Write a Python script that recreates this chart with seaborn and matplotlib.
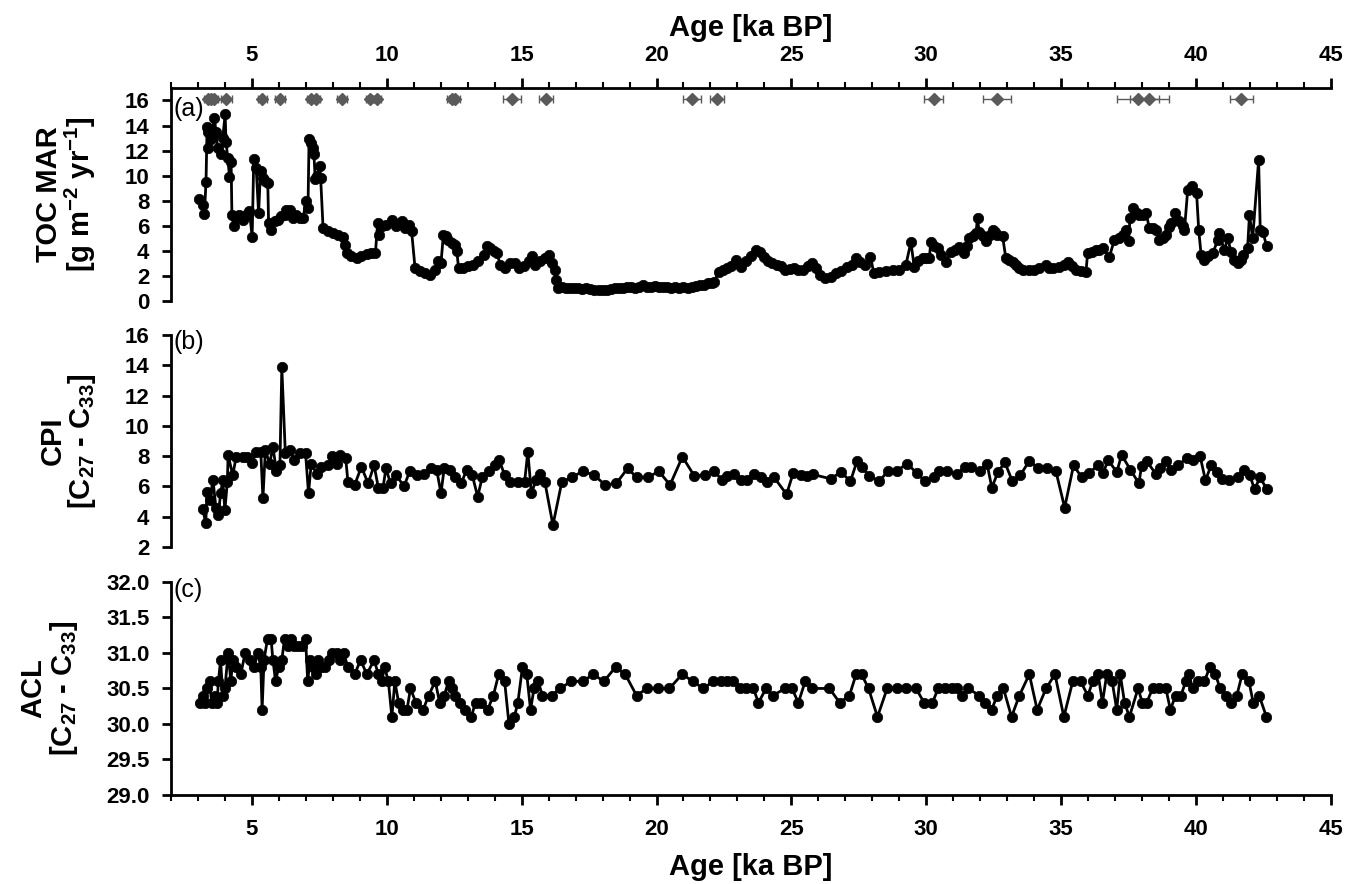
import matplotlib
matplotlib.use("Agg")
import matplotlib.pyplot as plt
import pandas as pd
import seaborn as sns
from matplotlib.ticker import MultipleLocator, FormatStrFormatter

# TOC MAR (g m-2 yr-1)
toc_age = [3.05, 3.18, 3.24, 3.30, 3.34, 3.36, 3.39, 3.49, 3.61, 3.67, 3.73, 3.86, 3.92, 4.01, 4.04,
           4.11, 4.17, 4.23, 4.26, 4.33, 4.42, 4.54, 4.66, 4.79, 4.91, 5.01, 5.07, 5.16, 5.25, 5.32,
           5.41, 5.49, 5.59, 5.62, 5.72, 5.84, 5.97, 6.09, 6.21, 6.28, 6.40, 6.52, 6.65, 6.77, 6.89,
           7.02, 7.08, 7.12, 7.20, 7.27, 7.30, 7.35, 7.43, 7.51, 7.55, 7.64, 7.82, 8.01, 8.20, 8.38,
           8.44, 8.51, 8.69, 8.88, 9.06, 9.25, 9.43, 9.58, 9.66, 9.71, 9.81, 9.99, 10.18, 10.36, 10.55,
           10.67, 10.82, 10.92, 11.05, 11.23, 11.42, 11.60, 11.79, 11.91, 12.01, 12.10, 12.19, 12.28,
           12.41, 12.53, 12.60, 12.66, 12.84, 13.03, 13.21, 13.40, 13.59, 13.71, 13.83, 13.96, 14.08,
           14.21, 14.39, 14.58, 14.76, 14.89, 15.07, 15.26, 15.38, 15.51, 15.69, 15.88, 16.03, 16.13,
           16.23, 16.28, 16.35, 16.50, 16.65, 16.80, 16.95, 17.10, 17.25, 17.40, 17.55, 17.70, 17.85,
           18.00, 18.15, 18.30, 18.45, 18.60, 18.75, 18.90, 19.05, 19.20, 19.35, 19.50, 19.65, 19.80,
           19.95, 20.10, 20.25, 20.40, 20.55, 20.70, 20.85, 21.00, 21.15, 21.30, 21.45, 21.60, 21.75,
           21.90, 22.05, 22.14, 22.30, 22.45, 22.60, 22.75, 22.96, 23.13, 23.30, 23.50, 23.70, 23.85,
           24.00, 24.15, 24.28, 24.45, 24.60, 24.77, 24.95, 25.10, 25.25, 25.43, 25.60, 25.76, 25.90,
           26.05, 26.25, 26.45, 26.65, 26.85, 27.07, 27.25, 27.40, 27.55, 27.73, 27.93, 28.06, 28.26,
           28.50, 28.75, 28.99, 29.24, 29.43, 29.55, 29.70, 29.86, 30.00, 30.11, 30.17, 30.30, 30.42,
           30.55, 30.73, 30.91, 31.05, 31.22, 31.40, 31.50, 31.59, 31.72, 31.84, 31.90, 31.96, 32.10,
           32.21, 32.35, 32.46, 32.55, 32.64, 32.83, 32.95, 33.08, 33.20, 33.32, 33.44, 33.60, 33.81,
           34.00, 34.19, 34.43, 34.55, 34.68, 34.93, 35.10, 35.24, 35.40, 35.55, 35.75, 35.92, 35.98,
           36.15, 36.29, 36.40, 36.54, 36.79, 36.97, 37.16, 37.30, 37.40, 37.50, 37.55, 37.68, 37.80,
           37.90, 38.05, 38.15, 38.27, 38.40, 38.52, 38.64, 38.77, 38.89, 39.00, 39.07, 39.23, 39.38,
           39.50, 39.57, 39.69, 39.85, 40.02, 40.10, 40.19, 40.31, 40.45, 40.62, 40.80, 40.86, 41.05,
           41.17, 41.30, 41.42, 41.54, 41.65, 41.73, 41.91, 41.98, 42.10, 42.32, 42.38, 42.48, 42.62]
toc_mar = [8.1, 7.7, 6.95, 9.5, 13.9, 12.2, 13.5, 12.9, 14.6, 13.5, 12.2, 11.7, 13.0, 14.9, 12.7,
           11.4, 9.9, 11.1, 6.9, 6.0, 6.6, 6.9, 6.5, 6.9, 7.2, 5.1, 11.3, 10.6, 7.0, 10.4,
           9.8, 9.6, 9.4, 6.2, 5.7, 6.4, 6.5, 6.8, 6.9, 7.3, 7.3, 6.6, 6.9, 6.6, 6.6,
           8.0, 7.4, 12.9, 12.6, 12.2, 11.7, 9.7, 10.0, 10.75, 9.8, 5.8, 5.6, 5.4, 5.3, 5.1,
           4.5, 3.8, 3.6, 3.4, 3.6, 3.75, 3.8, 3.8, 6.2, 5.3, 6.0, 6.1, 6.5, 6.0, 6.4,
           5.8, 6.1, 5.6, 2.6, 2.4, 2.2, 2.1, 2.5, 3.2, 3.0, 5.3, 5.2, 4.9,
           4.6, 4.5, 4.0, 2.6, 2.6, 2.8, 2.9, 3.2, 3.7, 4.4, 4.2, 4.0, 3.8,
           2.9, 2.6, 3.0, 3.0, 2.6, 2.8, 3.2, 3.6, 2.9, 3.2, 3.4, 3.7, 3.0,
           2.5, 1.7, 1.05, 1.1, 1.05, 1.0, 1.05, 1.0, 0.95, 1.0, 0.95, 0.9, 0.9,
           0.85, 0.9, 0.95, 1.0, 1.05, 1.0, 1.1, 1.1, 1.05, 1.15, 1.3, 1.15, 1.1,
           1.2, 1.15, 1.1, 1.15, 1.05, 1.1, 1.0, 1.1, 1.05, 1.15, 1.2, 1.25, 1.3,
           1.4, 1.45, 1.55, 2.3, 2.45, 2.6, 2.8, 3.25, 2.75, 3.2, 3.6, 4.05, 3.9,
           3.5, 3.2, 3.0, 2.9, 2.8, 2.5, 2.55, 2.6, 2.45, 2.5, 2.8, 3.0, 2.6,
           2.1, 1.8, 1.95, 2.2, 2.4, 2.75, 2.9, 3.4, 3.1, 2.85, 3.5, 2.2, 2.35,
           2.4, 2.45, 2.5, 2.85, 4.7, 2.75, 3.2, 3.4, 3.4, 3.4, 4.7, 4.4, 4.2,
           3.7, 3.15, 3.9, 4.1, 4.3, 3.8, 4.4, 5.0, 5.2, 5.4, 6.6, 5.5, 5.2,
           4.75, 5.3, 5.65, 5.5, 5.3, 5.15, 3.4, 3.3, 3.1, 2.9, 2.6, 2.5, 2.45,
           2.5, 2.6, 2.85, 2.6, 2.6, 2.75, 2.9, 3.15, 2.8, 2.45, 2.4, 2.35, 3.8,
           3.9, 4.05, 4.1, 4.2, 3.55, 4.85, 5.0, 5.3, 5.65, 4.75, 6.6, 7.4, 7.0,
           6.85, 6.9, 7.0, 5.8, 5.8, 5.65, 4.85, 5.0, 5.25, 5.9, 6.2, 7.0, 6.35,
           6.0, 5.65, 8.85, 9.2, 8.6, 5.65, 3.65, 3.25, 3.6, 3.8, 4.85, 5.4, 4.05,
           5.0, 3.95, 3.25, 3.0, 3.3, 3.65, 4.2, 6.85, 5.0, 11.25, 5.65, 5.5, 4.35]

# dating points (ka BP) with 1-sigma error
date_age = [3.38, 3.50, 3.58, 4.05, 5.38, 6.04, 7.18, 7.38, 8.34, 9.38, 9.65, 12.42, 12.52,
            14.65, 15.90, 21.32, 22.24, 30.28, 32.62, 37.85, 38.27, 41.68]
date_err = [0.15, 0.12, 0.15, 0.2, 0.17, 0.17, 0.15, 0.15, 0.17, 0.15, 0.15, 0.2, 0.2,
            0.33, 0.27, 0.33, 0.26, 0.35, 0.53, 0.79, 0.72, 0.43]

# CPI (C27 - C33)
cpi_age = [3.18, 3.29, 3.34, 3.43, 3.56, 3.67, 3.76, 3.84, 3.92, 4.00, 4.09, 4.12, 4.29, 4.42, 4.67,
           4.83, 5.00, 5.17, 5.33, 5.41, 5.50, 5.66, 5.78, 5.91, 6.04, 6.11, 6.24, 6.41, 6.57, 6.77,
           6.99, 7.10, 7.20, 7.40, 7.57, 7.82, 7.98, 8.15, 8.27, 8.48, 8.56, 8.81, 9.06, 9.31, 9.53,
           9.69, 9.86, 9.97, 10.14, 10.35, 10.64, 10.85, 11.13, 11.38, 11.63, 11.85, 12.01, 12.13,
           12.34, 12.54, 12.76, 12.96, 13.17, 13.37, 13.54, 13.78, 14.00, 14.17, 14.37, 14.56, 14.86,
           15.11, 15.23, 15.36, 15.53, 15.69, 15.86, 16.16, 16.49, 16.85, 17.27, 17.68, 18.10, 18.51,
           18.93, 19.26, 19.67, 20.09, 20.50, 20.96, 21.40, 21.78, 22.14, 22.43, 22.63, 22.88, 23.12,
           23.37, 23.62, 23.87, 24.11, 24.36, 24.82, 25.07, 25.35, 25.59, 25.79, 26.46, 26.83, 27.19,
           27.43, 27.60, 27.89, 28.26, 28.59, 28.91, 29.29, 29.64, 29.95, 30.28, 30.49, 30.77, 31.15,
           31.43, 31.64, 32.00, 32.25, 32.43, 32.66, 32.91, 33.19, 33.49, 33.82, 34.14, 34.47, 34.80,
           35.13, 35.46, 35.76, 36.04, 36.37, 36.56, 36.74, 37.06, 37.24, 37.57, 37.88, 37.98, 38.18,
           38.50, 38.67, 38.88, 39.08, 39.33, 39.65, 39.90, 40.15, 40.35, 40.56, 40.76, 40.97, 41.22,
           41.55, 41.76, 41.99, 42.17, 42.37, 42.63]
cpi_val = [4.5, 3.56, 5.65, 5.1, 6.4, 4.55, 4.1, 5.55, 6.4, 4.44, 6.3, 8.07, 6.75, 7.96, 7.96,
           7.96, 7.52, 8.3, 8.3, 5.21, 8.4, 7.5, 8.63, 7.0, 7.4, 13.86, 8.2, 8.4, 7.75, 8.2,
           8.2, 5.55, 7.5, 6.85, 7.3, 7.4, 8.0, 7.5, 8.1, 7.85, 6.3, 6.1, 7.3, 6.2, 7.4,
           5.9, 5.9, 7.2, 6.2, 6.75, 6.0, 7.0, 6.75, 6.85, 7.2, 7.1, 5.55, 7.2,
           7.1, 6.6, 6.2, 7.1, 6.75, 5.33, 6.6, 7.0, 7.4, 7.75, 6.75, 6.3, 6.3,
           6.3, 8.3, 5.55, 6.4, 6.85, 6.3, 3.45, 6.3, 6.6, 7.0, 6.75, 6.1, 6.2,
           7.2, 6.6, 6.6, 7.0, 6.1, 7.96, 6.7, 6.75, 7.04, 6.4, 6.7, 6.8, 6.4,
           6.4, 6.8, 6.6, 6.3, 6.6, 5.48, 6.9, 6.75, 6.7, 6.8, 6.5, 6.95, 6.35,
           7.66, 7.3, 6.7, 6.35, 7.04, 7.04, 7.5, 6.9, 6.35, 6.6, 7.04, 7.04, 6.8,
           7.3, 7.3, 7.04, 7.5, 5.93, 6.95, 7.6, 6.35, 6.75, 7.7, 7.2, 7.2, 7.04,
           4.6, 7.4, 6.6, 6.9, 7.4, 6.9, 7.75, 6.95, 8.07, 7.1, 6.2, 7.35, 7.65,
           6.85, 7.2, 7.65, 7.1, 7.4, 7.85, 7.75, 8.0, 6.4, 7.4, 6.95, 6.5, 6.45,
           6.6, 7.1, 6.75, 5.8, 6.6, 5.8]

# ACL (C27 - C33)
acl_age = [3.09, 3.18, 3.26, 3.34, 3.43, 3.51, 3.62, 3.71, 3.76, 3.84, 3.92, 4.00, 4.12, 4.22, 4.29,
           4.42, 4.59, 4.75, 4.92, 5.08, 5.22, 5.33, 5.38, 5.45, 5.58, 5.71, 5.78, 5.88, 5.99, 6.11,
           6.21, 6.33, 6.44, 6.57, 6.71, 6.84, 6.99, 7.07, 7.15, 7.27, 7.37, 7.44, 7.57, 7.70, 7.87,
           7.98, 8.15, 8.28, 8.40, 8.56, 8.81, 9.03, 9.26, 9.53, 9.69, 9.81, 9.92, 10.06, 10.19, 10.30,
           10.44, 10.59, 10.75, 10.88, 11.08, 11.35, 11.55, 11.80, 11.96, 12.13, 12.29, 12.41, 12.54,
           12.71, 12.91, 13.13, 13.29, 13.50, 13.74, 13.95, 14.15, 14.37, 14.53, 14.73, 14.86, 15.03,
           15.19, 15.33, 15.46, 15.61, 15.77, 16.11, 16.44, 16.82, 17.27, 17.65, 18.05, 18.48, 18.84,
           19.26, 19.64, 20.06, 20.48, 20.95, 21.35, 21.73, 22.11, 22.38, 22.63, 22.85, 23.08, 23.32,
           23.59, 23.78, 24.06, 24.31, 24.77, 25.02, 25.26, 25.51, 25.76, 26.41, 26.79, 27.15, 27.40,
           27.60, 27.86, 28.19, 28.55, 28.91, 29.26, 29.62, 29.92, 30.23, 30.44, 30.69, 30.94, 31.15,
           31.32, 31.55, 31.97, 32.17, 32.42, 32.63, 32.86, 33.16, 33.45, 33.82, 34.11, 34.44, 34.77,
           35.10, 35.43, 35.72, 35.99, 36.17, 36.37, 36.53, 36.69, 36.89, 37.06, 37.19, 37.35, 37.53,
           37.85, 38.01, 38.17, 38.39, 38.63, 38.88, 39.05, 39.24, 39.44, 39.62, 39.74, 39.87, 40.07,
           40.31, 40.51, 40.72, 40.89, 41.10, 41.30, 41.51, 41.71, 41.96, 42.12, 42.34, 42.61]
acl_val = [30.3, 30.4, 30.3, 30.5, 30.6, 30.3, 30.4, 30.3, 30.6, 30.9, 30.4, 30.5, 31.0, 30.6, 30.9,
           30.8, 30.7, 31.0, 30.9, 30.8, 31.0, 30.8, 30.2, 30.9, 31.2, 31.2, 30.9, 30.6, 30.8, 30.9,
           31.2, 31.1, 31.2, 31.1, 31.1, 31.1, 31.2, 30.6, 30.9, 30.8, 30.7, 30.9, 30.8, 30.8, 30.9,
           31.0, 31.0, 30.9, 31.0, 30.8, 30.7, 30.9, 30.7, 30.9, 30.7, 30.6, 30.8, 30.6, 30.1, 30.6,
           30.3, 30.2, 30.2, 30.5, 30.3, 30.2, 30.4, 30.6, 30.3, 30.4, 30.6, 30.5, 30.4,
           30.3, 30.2, 30.1, 30.3, 30.3, 30.2, 30.4, 30.7, 30.6, 30.0, 30.1, 30.3, 30.8,
           30.7, 30.2, 30.5, 30.6, 30.4, 30.4, 30.5, 30.6, 30.6, 30.7, 30.6, 30.8, 30.7,
           30.4, 30.5, 30.5, 30.5, 30.7, 30.6, 30.5, 30.6, 30.6, 30.6, 30.6, 30.5, 30.5,
           30.5, 30.3, 30.5, 30.4, 30.5, 30.5, 30.3, 30.6, 30.5, 30.5, 30.3, 30.4, 30.7,
           30.7, 30.5, 30.1, 30.5, 30.5, 30.5, 30.5, 30.3, 30.3, 30.5, 30.5, 30.5, 30.5,
           30.4, 30.5, 30.4, 30.3, 30.2, 30.4, 30.5, 30.1, 30.4, 30.7, 30.2, 30.5, 30.7,
           30.1, 30.6, 30.6, 30.4, 30.6, 30.7, 30.3, 30.7, 30.6, 30.2, 30.7, 30.3, 30.1,
           30.5, 30.3, 30.3, 30.5, 30.5, 30.5, 30.2, 30.4, 30.4, 30.6, 30.7, 30.5, 30.6,
           30.6, 30.8, 30.7, 30.5, 30.4, 30.3, 30.4, 30.7, 30.6, 30.3, 30.4, 30.1]

sns.set_theme(style="ticks")
plt.rcParams["font.family"] = ["Liberation Sans", "DejaVu Sans"]
plt.rcParams["mathtext.fontset"] = "custom"
plt.rcParams["mathtext.rm"] = "Liberation Sans:bold"
plt.rcParams["mathtext.it"] = "Liberation Sans:bold"
plt.rcParams["mathtext.bf"] = "Liberation Sans:bold"
plt.rcParams["mathtext.default"] = "rm"
for key in ["text.color", "axes.edgecolor", "axes.labelcolor", "xtick.color", "ytick.color"]:
    plt.rcParams[key] = "black"

fig = plt.figure(figsize=(13.46, 8.84), dpi=100)
left, width = 0.127, 0.8618
ax_a = fig.add_axes([left, 0.6595, width, 0.2410])
ax_b = fig.add_axes([left, 0.3812, width, 0.2398])
ax_c = fig.add_axes([left, 0.1007, width, 0.2410])

line_kw = dict(color="black", linewidth=2.0, marker="o", markersize=7.5,
               markeredgecolor="black", markeredgewidth=0.5, sort=False, estimator=None)

toc_df = pd.DataFrame({"age": toc_age, "val": toc_mar})
cpi_df = pd.DataFrame({"age": cpi_age, "val": cpi_val})
acl_df = pd.DataFrame({"age": acl_age, "val": acl_val})

sns.lineplot(data=toc_df, x="age", y="val", ax=ax_a, **line_kw)
sns.lineplot(data=cpi_df, x="age", y="val", ax=ax_b, **line_kw)
sns.lineplot(data=acl_df, x="age", y="val", ax=ax_c, **line_kw)

# dating points on top of panel (a)
ax_a.errorbar(date_age, [16.15] * len(date_age), xerr=date_err, fmt="D", color="#5a5a5a",
              markersize=6.5, elinewidth=1.0, capsize=3, capthick=1.0, zorder=4)

label_font = dict(fontsize=21, fontweight="bold")

for ax in (ax_a, ax_b, ax_c):
    ax.set_xlim(2, 45)
    ax.spines["right"].set_visible(False)
    ax.spines["left"].set_linewidth(2)
    ax.tick_params(axis="y", direction="out", length=6.5, width=2, pad=9, labelsize=16)
    ax.xaxis.set_major_locator(MultipleLocator(5))
    ax.xaxis.set_minor_locator(MultipleLocator(1))
    ax.set_xlabel("")
    ax.set_ylabel("")

# panel (a)
ax_a.set_ylim(0, 17)
ax_a.set_yticks(range(0, 17, 2))
ax_a.spines["bottom"].set_visible(False)
ax_a.spines["top"].set_linewidth(2)
ax_a.xaxis.set_ticks_position("top")
ax_a.xaxis.set_label_position("top")
ax_a.tick_params(axis="x", which="major", direction="out", length=7, width=2, pad=9, labelsize=16)
ax_a.tick_params(axis="x", which="minor", direction="out", length=4.5, width=1.5)
ax_a.set_xlabel("Age [ka BP]", labelpad=6, **label_font)

# panel (b)
ax_b.set_ylim(2, 16)
ax_b.set_yticks(range(2, 17, 2))
ax_b.spines["top"].set_visible(False)
ax_b.spines["bottom"].set_visible(False)
ax_b.tick_params(axis="x", which="both", bottom=False, top=False, labelbottom=False)

# panel (c)
ax_c.set_ylim(29, 32)
ax_c.set_yticks([29.0, 29.5, 30.0, 30.5, 31.0, 31.5, 32.0])
ax_c.yaxis.set_major_formatter(FormatStrFormatter("%.1f"))
ax_c.spines["top"].set_visible(False)
ax_c.spines["bottom"].set_linewidth(2)
ax_c.tick_params(axis="x", which="major", direction="out", length=7, width=2, pad=10, labelsize=16)
ax_c.tick_params(axis="x", which="minor", direction="out", length=4.5, width=1.5)
ax_c.set_xlabel("Age [ka BP]", labelpad=10, **label_font)

for ax in (ax_a, ax_b, ax_c):
    for lab in ax.get_xticklabels() + ax.get_yticklabels():
        lab.set_fontweight("bold")

ax_a.set_ylabel("TOC MAR\n[g m$^{-2}$ yr$^{-1}$]", labelpad=19, linespacing=1.0, **label_font)
ax_b.set_ylabel("CPI\n[C$_{27}$ - C$_{33}$]", labelpad=19, linespacing=1.0, **label_font)
ax_c.set_ylabel("ACL\n[C$_{27}$ - C$_{33}$]", labelpad=19, linespacing=1.0, **label_font)

ax_a.text(2.1, 16.25, "(a)", fontsize=18, va="top", ha="left")
ax_b.text(2.1, 16.35, "(b)", fontsize=18, va="top", ha="left")
ax_c.text(2.1, 32.06, "(c)", fontsize=18, va="top", ha="left")

plt.savefig("out.png", dpi=100)
plt.close()
